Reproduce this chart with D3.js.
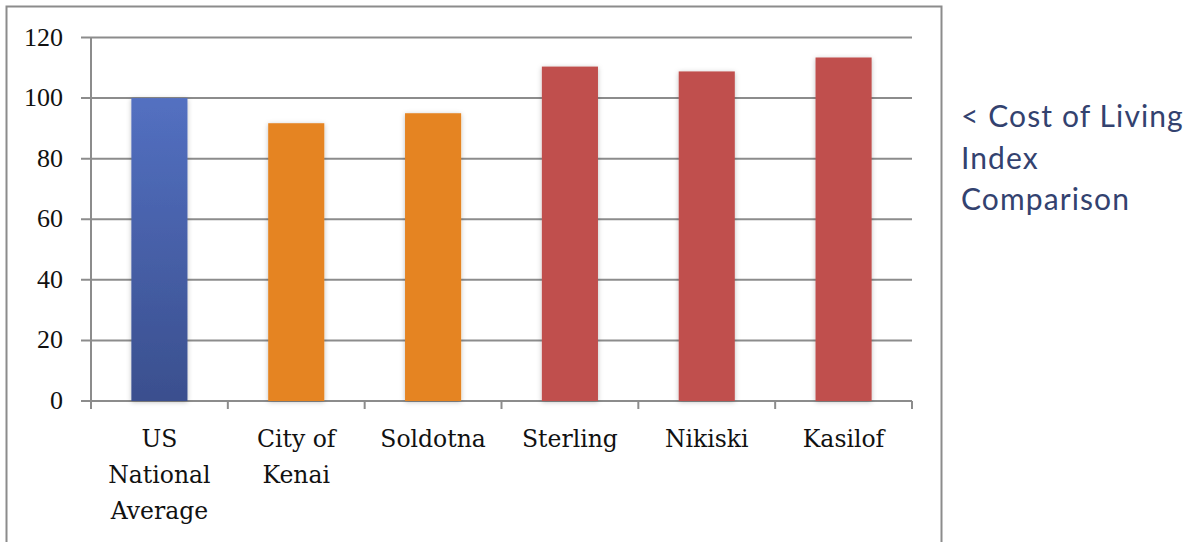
<!DOCTYPE html>
<html>
<head>
<meta charset="utf-8">
<script src="https://cdn.jsdelivr.net/npm/d3@7"></script>
<style>
  body { margin: 0; background: #fff; }
  svg { display: block; }
</style>
</head>
<body>
<div id="chart"></div>
<script>
// chart data
const categories = [["US", "National", "Average"], ["City of", "Kenai"], ["Soldotna"], ["Sterling"], ["Nikiski"], ["Kasilof"]]
const values = [100, 91.7, 95, 110.4, 108.8, 113.4]
const groups = ["us", "city", "city", "area", "area", "area"]
const yTicks = [0, 20, 40, 60, 80, 100, 120]
const titleLines = ["< Cost of Living", "Index", "Comparison"]

const W = 1189, H = 542
const plot = {left: 91, right: 912, top: 37.5, bottom: 401}

const svg = d3.select("#chart").append("svg")
  .attr("width", W).attr("height", H)

const defs = svg.append("defs")
const grad = defs.append("linearGradient").attr("id", "blueGrad")
  .attr("x1", 0).attr("y1", 0).attr("x2", 0).attr("y2", 1)
grad.append("stop").attr("offset", "0%").attr("stop-color", "#5370C1")
grad.append("stop").attr("offset", "100%").attr("stop-color", "#3A4F8E")

const shadow = defs.append("filter").attr("id", "shadow")
  .attr("x", "-30%").attr("y", "-10%").attr("width", "160%").attr("height", "120%")
shadow.append("feDropShadow").attr("dx", 0).attr("dy", 1).attr("stdDeviation", 2.5)
  .attr("flood-color", "#000").attr("flood-opacity", 0.25)

// outer frame (bottom edge cut off)
svg.append("path")
  .attr("d", `M6.5,${H} V6.5 H941.5 V${H}`)
  .attr("fill", "none").attr("stroke", "#8c8c8c").attr("stroke-width", 2)

const x = d3.scaleBand()
  .domain(d3.range(categories.length))
  .range([plot.left, plot.right])
  .paddingInner(0.59).paddingOuter(0.295)

const y = d3.scaleLinear().domain([0, 120]).range([plot.bottom, plot.top])

const color = d3.scaleOrdinal()
  .domain(["us", "city", "area"])
  .range(["url(#blueGrad)", "#E58421", "#C0504D"])

// gridlines
svg.append("g")
  .selectAll("line")
  .data(yTicks)
  .join("line")
  .attr("x1", plot.left - 10).attr("x2", plot.right)
  .attr("y1", d => y(d)).attr("y2", d => y(d))
  .attr("stroke", "#8c8c8c").attr("stroke-width", 2)

// y axis line
svg.append("line")
  .attr("x1", plot.left).attr("x2", plot.left)
  .attr("y1", y(120)).attr("y2", plot.bottom + 8)
  .attr("stroke", "#8c8c8c").attr("stroke-width", 2)

// x tick marks at category boundaries
const step = (plot.right - plot.left) / categories.length
svg.append("g")
  .selectAll("line")
  .data(d3.range(categories.length + 1))
  .join("line")
  .attr("x1", d => plot.left + d * step).attr("x2", d => plot.left + d * step)
  .attr("y1", plot.bottom).attr("y2", plot.bottom + 8)
  .attr("stroke", "#8c8c8c").attr("stroke-width", 2)

// bars
svg.append("g")
  .selectAll("rect")
  .data(values)
  .join("rect")
  .attr("x", (d, i) => x(i))
  .attr("width", x.bandwidth())
  .attr("y", d => y(d))
  .attr("height", d => y(0) - y(d))
  .attr("fill", (d, i) => color(groups[i]))
  .attr("filter", "url(#shadow)")

// y tick labels
svg.append("g")
  .selectAll("text")
  .data(yTicks)
  .join("text")
  .attr("x", 63).attr("y", d => y(d) + 8)
  .attr("text-anchor", "end")
  .style("font-family", "'Liberation Serif', serif")
  .style("font-size", "26px")
  .attr("fill", "#111")
  .text(d => d)

// category labels
const catG = svg.append("g")
categories.forEach((lines, i) => {
  const t = catG.append("text")
    .attr("text-anchor", "middle")
    .style("font-family", "'DejaVu Serif', 'Liberation Serif', serif")
    .style("font-size", "23.5px")
    .attr("fill", "#111")
  lines.forEach((ln, j) => {
    t.append("tspan")
      .attr("x", x(i) + x.bandwidth() / 2)
      .attr("y", 447 + j * 36)
      .text(ln)
  })
})

// side title
const title = svg.append("text")
  .style("font-family", "'Lato', 'Open Sans', sans-serif")
  .style("font-size", "30px")
  .style("letter-spacing", "1.1px")
  .attr("fill", "#33426F")
titleLines.forEach((ln, j) => {
  title.append("tspan").attr("x", 961).attr("y", 127 + j * 41.5).text(ln)
})
</script>
</body>
</html>
